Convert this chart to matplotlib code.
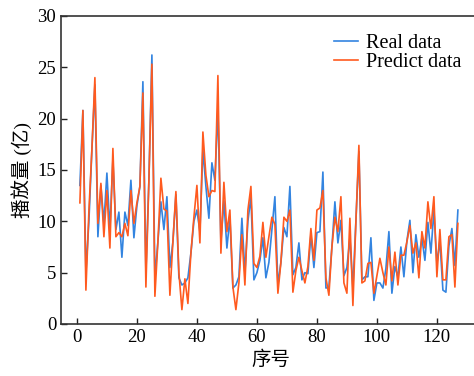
import matplotlib.pyplot as plt

plt.rcParams['font.family'] = ['Liberation Serif', 'Noto Sans CJK SC']

idx = list(range(1, 128))

real = [13.5, 20.8, 5.0, 10.0, 17.0, 23.3, 8.5, 13.5, 9.8, 14.7,
        9.2, 16.0, 9.2, 10.9, 6.5, 10.9, 9.6, 14.0, 8.4, 11.5,
        13.4, 23.6, 5.0, 14.0, 26.2, 4.5, 8.0, 11.9, 9.2, 12.4,
        5.5, 8.0, 12.6, 4.5, 3.8, 4.0, 4.5, 6.9, 10.0, 11.1,
        9.0, 17.0, 13.4, 10.3, 15.7, 14.0, 21.0, 8.0, 12.0, 7.4,
        10.4, 3.5, 3.8, 4.6, 10.3, 5.0, 10.0, 12.4, 4.3, 5.0,
        6.2, 8.4, 4.5, 6.0, 9.2, 12.4, 3.8, 6.0, 9.4, 8.5,
        13.4, 4.8, 5.5, 7.9, 4.3, 5.0, 4.9, 8.7, 5.5, 8.9,
        9.0, 14.8, 3.5, 3.6, 7.5, 11.9, 7.9, 10.1, 4.7, 5.5,
        8.4, 3.5, 10.0, 16.8, 4.3, 4.6, 4.6, 8.4, 2.3, 4.0,
        4.0, 3.5, 5.4, 9.0, 3.0, 5.6, 4.6, 7.5, 4.6, 8.1,
        10.1, 5.0, 8.7, 6.5, 8.4, 6.2, 9.9, 6.9, 11.1, 5.9,
        8.1, 3.3, 3.1, 7.6, 9.3, 5.7, 11.1]

pred = [11.8, 20.8, 3.3, 11.0, 17.0, 24.0, 9.8, 13.7, 8.5, 13.0,
        7.4, 17.1, 8.5, 8.9, 8.5, 9.8, 8.6, 13.0, 9.8, 11.8,
        13.4, 22.5, 3.6, 14.0, 25.3, 2.7, 8.0, 14.2, 11.2, 11.0,
        2.8, 8.0, 12.9, 5.0, 1.4, 4.4, 2.0, 6.9, 10.4, 13.5,
        7.9, 18.7, 14.5, 12.4, 13.0, 12.9, 24.2, 6.9, 13.8, 9.0,
        11.1, 3.6, 1.4, 4.0, 8.7, 3.8, 11.1, 13.4, 5.9, 5.5,
        6.6, 9.9, 6.5, 8.5, 10.4, 9.7, 3.0, 6.0, 10.4, 10.0,
        11.1, 3.1, 5.2, 6.5, 5.2, 4.0, 5.6, 9.3, 6.2, 11.1,
        11.3, 13.0, 4.5, 2.8, 7.5, 10.4, 9.0, 12.4, 4.0, 3.0,
        10.3, 1.8, 10.0, 17.4, 4.0, 4.2, 5.9, 6.0, 3.0, 4.7,
        6.4, 5.0, 3.8, 7.5, 4.2, 7.0, 3.8, 6.7, 6.7, 8.0,
        9.6, 6.9, 7.9, 4.5, 9.0, 7.4, 11.9, 9.3, 12.4, 4.6,
        9.2, 4.3, 4.3, 8.5, 8.7, 3.6, 9.8]

fig = plt.figure(figsize=(4.74, 3.76), dpi=100)
# axes run slightly past the right edge, as in the original crop
ax = fig.add_axes([61 / 474, 1 - 324 / 376, 420 / 474, 308 / 376])

ax.plot(idx, real, color='#3384e0', lw=1.2, label='Real data')
ax.plot(idx, pred, color='#ff5a1f', lw=1.2, label='Predict data')

ax.set_xlim(-5.3, 134.7)
ax.set_ylim(0, 30)
ax.set_xticks([0, 20, 40, 60, 80, 100, 120])
ax.set_yticks([0, 5, 10, 15, 20, 25, 30])
ax.tick_params(direction='in', labelsize=13.5, length=4, width=1, colors='#222222')
ax.tick_params(axis='both', labelcolor='black')
for s in ax.spines.values():
    s.set_color('#333333')
    s.set_linewidth(1.2)

ax.set_xlabel('序号', fontsize=14, family=['Noto Sans CJK SC'], labelpad=2)
ax.set_ylabel('播放量 (亿)', fontsize=14, family=['Liberation Serif', 'Noto Sans CJK SC'], labelpad=4)

ax.legend(loc='upper left', frameon=False, fontsize=14.5, handlelength=1.2,
          handletextpad=0.4, labelspacing=0.0, borderpad=0, borderaxespad=0,
          bbox_to_anchor=(334 / 474, 1 - 34 / 376), bbox_transform=fig.transFigure)

fig.savefig('out.png', dpi=100)
